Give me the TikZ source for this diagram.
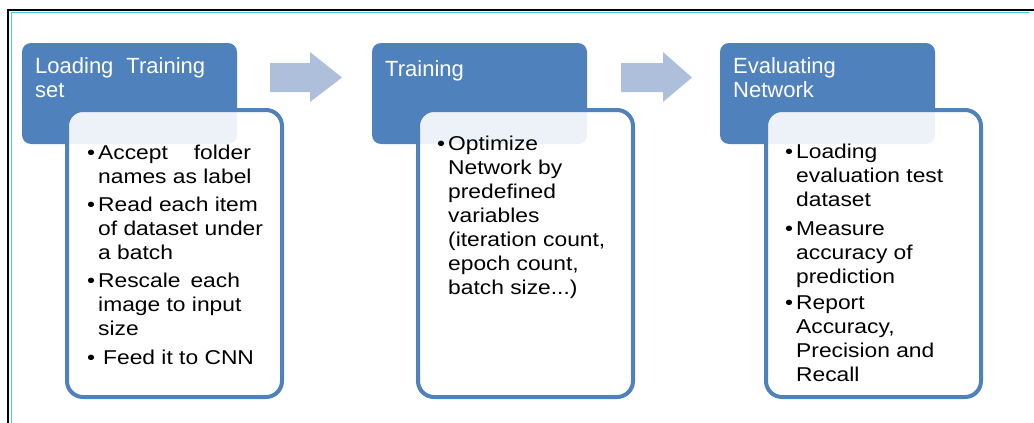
\documentclass[tikz,border=0pt]{standalone}
\usepackage{fontspec}
\setmainfont{Liberation Sans}
\newfontfamily\bodyfont[FakeStretch=1.14]{Liberation Sans}
\definecolor{boxblue}{RGB}{79,129,189}
\definecolor{arrowblue}{RGB}{174,191,220}
\definecolor{framecyan}{RGB}{70,200,232}
\tikzset{
  x=1pt, y=-1pt,
  header/.style={draw=none, fill=boxblue, rounded corners=9pt, inner sep=0pt,
    minimum width=215pt, minimum height=101pt},
  body/.style={draw=boxblue, line width=4pt, fill=white, fill opacity=0.9,
    rounded corners=16pt, inner sep=0pt, minimum width=215pt, minimum height=287pt},
  % multi-line text nodes are placed by the baseline of their last line
  headtext/.style={anchor=base west, inner sep=0pt, align=left, text=white,
    font=\fontsize{22}{24}\selectfont},
  item/.style={anchor=base west, inner sep=0pt, align=left, text=black,
    font=\bodyfont\fontsize{20}{24}\selectfont},
  blockarrow/.style={fill=arrowblue, draw=none}
}
\newcommand{\bul}{\llap{\textbullet\hspace{3pt}}}
\begin{document}
\begin{tikzpicture}
\useasboundingbox (0,0) rectangle (1034,423);
% page frame
\draw[framecyan, line width=1pt] (11,423) -- (11,12.5) -- (1029,12.5);
\draw[black, line width=2pt] (8,423) -- (8,10) -- (1034,10);

% block arrows between the stages
\coordinate (a1s) at (270,77.5);
\coordinate (a2s) at (621,77.5);
\fill[blockarrow] (a1s) ++(0,-14.5) -- ++(40,0) -- ++(0,-11) -- (342,77.5)
  -- (310,102) -- ++(0,-10) -- ++(-40,0) -- cycle;
\fill[blockarrow] (a2s) ++(0,-14.5) -- ++(42,0) -- ++(0,-11) -- (692,77.5)
  -- (663,102) -- ++(0,-10) -- ++(-42,0) -- cycle;

% stage headers
\node[header] (h1) at (129.5,93.5) {};
\node[header] (h2) at (479.5,93.5) {};
\node[header] (h3) at (827.5,93.5) {};

% stage bodies
\node[body] (b1) at (174.5,253.5) {};
\node[body] (b2) at (525.5,253.5) {};
\node[body] (b3) at (873.5,253.5) {};

% header titles
\node[headtext] (t1) at (35,97) {Loading\hspace{13pt}Training\\set};
\node[headtext] (t2) at (385,76) {Training};
\node[headtext] (t3) at (733,97) {Evaluating\\Network};

% stage 1 items
\node[item] (i11) at (98,183) {\bul Accept\hspace{26pt}folder\\names as label};
\node[item] (i12) at (98,259) {\bul Read each item\\of dataset under\\a batch};
\node[item] (i13) at (98,335) {\bul Rescale\hspace{10pt}each\\image to input\\size};
\node[item] (i14) at (98,364) {\bul\hspace{5pt}Feed it to CNN};

% stage 2 items
\node[item] (i21) at (448,294) {\bul Optimize\\Network by\\predefined\\variables\\(iteration count,\\epoch count,\\batch size...)};

% stage 3 items
\node[item] (i31) at (796,206) {\bul Loading\\evaluation test\\dataset};
\node[item] (i32) at (796,283) {\bul Measure\\accuracy of\\prediction};
\node[item] (i33) at (796,381) {\bul Report\\Accuracy,\\Precision and\\Recall};
\end{tikzpicture}
\end{document}
